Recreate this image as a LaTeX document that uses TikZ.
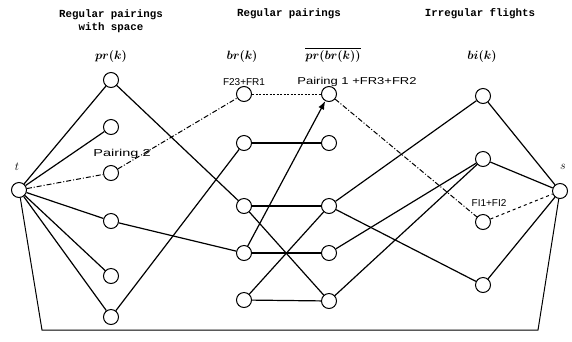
\documentclass[tikz,border=0pt]{standalone}
\usepackage{amsmath,amssymb}
\usepackage{graphicx}
\usepackage{fontspec}
\setmonofont{Liberation Mono}
\setsansfont{Liberation Sans}
\usepackage{tikz}
\usetikzlibrary{arrows.meta,calc}

\begin{document}
\begin{tikzpicture}[x=1pt,y=-1pt,>=Latex,
    vtx/.style={circle,draw,line width=1pt,minimum size=15pt,inner sep=0pt},
    arc/.style={line width=1.2pt},
    dotarc/.style={line width=1pt,dash pattern=on 2pt off 1.5pt},
    dasharc/.style={line width=1pt,dash pattern=on 5pt off 2pt on 1pt off 2pt},
    head/.style={font=\ttfamily\bfseries\fontsize{10.8}{13}\selectfont,align=center},
    setlbl/.style={font=\fontsize{13}{15}\selectfont\boldmath},
    tag/.style={font=\sffamily\fontsize{10}{12}\selectfont,inner sep=0pt}]
  \useasboundingbox (0,0) rectangle (572,341);

  % column headings
  \node[head] at (111,21) {Regular pairings\\with space};
  \node[head] at (289,14) {Regular pairings};
  \node[head] at (480,14) {Irregular flights};

  \node[setlbl] at (111,56) {$pr(k)$};
  \node[setlbl] at (242,56) {$br(k)$};
  \node[setlbl] at (333,55) {$\overline{pr(br(k))}$};
  \node[setlbl] at (482,56) {$bi(k)$};

  % source and sink
  \node[vtx] (t) at (19,190) {};
  \node[setlbl,font=\fontsize{12}{14}\selectfont] at (17,167) {$t$};
  \node[vtx] (s) at (560,191) {};
  \node[setlbl,font=\fontsize{12}{14}\selectfont] at (563,167) {$s$};

  % pr(k)
  \node[vtx] (pr1) at (111,80) {};
  \node[vtx] (pr2) at (111,127) {};
  \node[vtx] (pr3) at (111,173) {};
  \node[vtx] (pr4) at (111,221) {};
  \node[vtx] (pr5) at (111,276) {};
  \node[vtx] (pr6) at (111,317) {};

  % br(k)
  \node[vtx] (br1) at (244,94) {};
  \node[vtx] (br2) at (244,143) {};
  \node[vtx] (br3) at (244,206) {};
  \node[vtx] (br4) at (244,253) {};
  \node[vtx] (br5) at (244,300) {};

  % pr(br(k))
  \node[vtx] (pb1) at (329,94) {};
  \node[vtx] (pb2) at (329,143) {};
  \node[vtx] (pb3) at (329,206) {};
  \node[vtx] (pb4) at (329,253) {};
  \node[vtx] (pb5) at (329,301) {};

  % bi(k)
  \node[vtx] (bi1) at (483,96) {};
  \node[vtx] (bi2) at (483,159) {};
  \node[vtx] (bi3) at (483,222) {};
  \node[vtx] (bi4) at (483,285) {};

  % labels on the chosen path
  \node[tag] (lp2) at (122,154) {\scalebox{1.45}[1]{Pairing 2}};
  \node[tag] (lf23) at (244,82) {F23+FR1};
  \node[tag] (lp1) at (357,82) {\scalebox{1.3}[1]{Pairing 1 +FR3+FR2}};
  \node[tag] (lfi) at (489,203) {FI1+FI2};

  % t to pr(k)
  \draw[arc] (t) -- (pr1);
  \draw[arc] (t) -- (pr2);
  \draw[dasharc] (t) -- (pr3);
  \draw[arc] (t) -- (pr4);
  \draw[arc] (t) -- (pr5);
  \draw[arc] (t) -- (pr6);

  % pr(k) to br(k)
  \draw[arc] (pr1) -- (br3);
  \draw[dasharc] (pr3) -- (br1);
  \draw[arc] (pr4) -- (br4);
  \draw[arc] (pr6) -- (br2);

  % br(k) to pr(br(k))
  \draw[dotarc] (br1) -- (pb1);
  \draw[arc] (br2) -- (pb2);
  \draw[arc] (br3) -- (pb3);
  \draw[arc] (br4) -- (pb4);
  \draw[arc] (br5) -- (pb5);
  \draw[arc] (br3) -- (pb5);
  \draw[arc] (br5) -- (pb3);
  \draw[arc,->] (br4) -- (pb1);

  % pr(br(k)) to bi(k)
  \draw[dasharc] (pb1) -- (bi3);
  \draw[arc] (pb3) -- (bi1);
  \draw[arc] (pb3) -- (bi4);
  \draw[arc] (pb4) -- (bi2);
  \draw[arc] (pb5) -- (bi2);

  % bi(k) to s
  \draw[arc] (bi1) -- (s);
  \draw[arc] (bi2) -- (s);
  \draw[line width=1pt,dashed] (bi3) -- (s);
  \draw[arc] (bi4) -- (s);

  % return arc
  \coordinate (c1) at (42,330);
  \coordinate (c2) at (538,330);
  \draw[line width=1pt] (t) -- (c1) -- (c2) -- (s);
\end{tikzpicture}
\end{document}
